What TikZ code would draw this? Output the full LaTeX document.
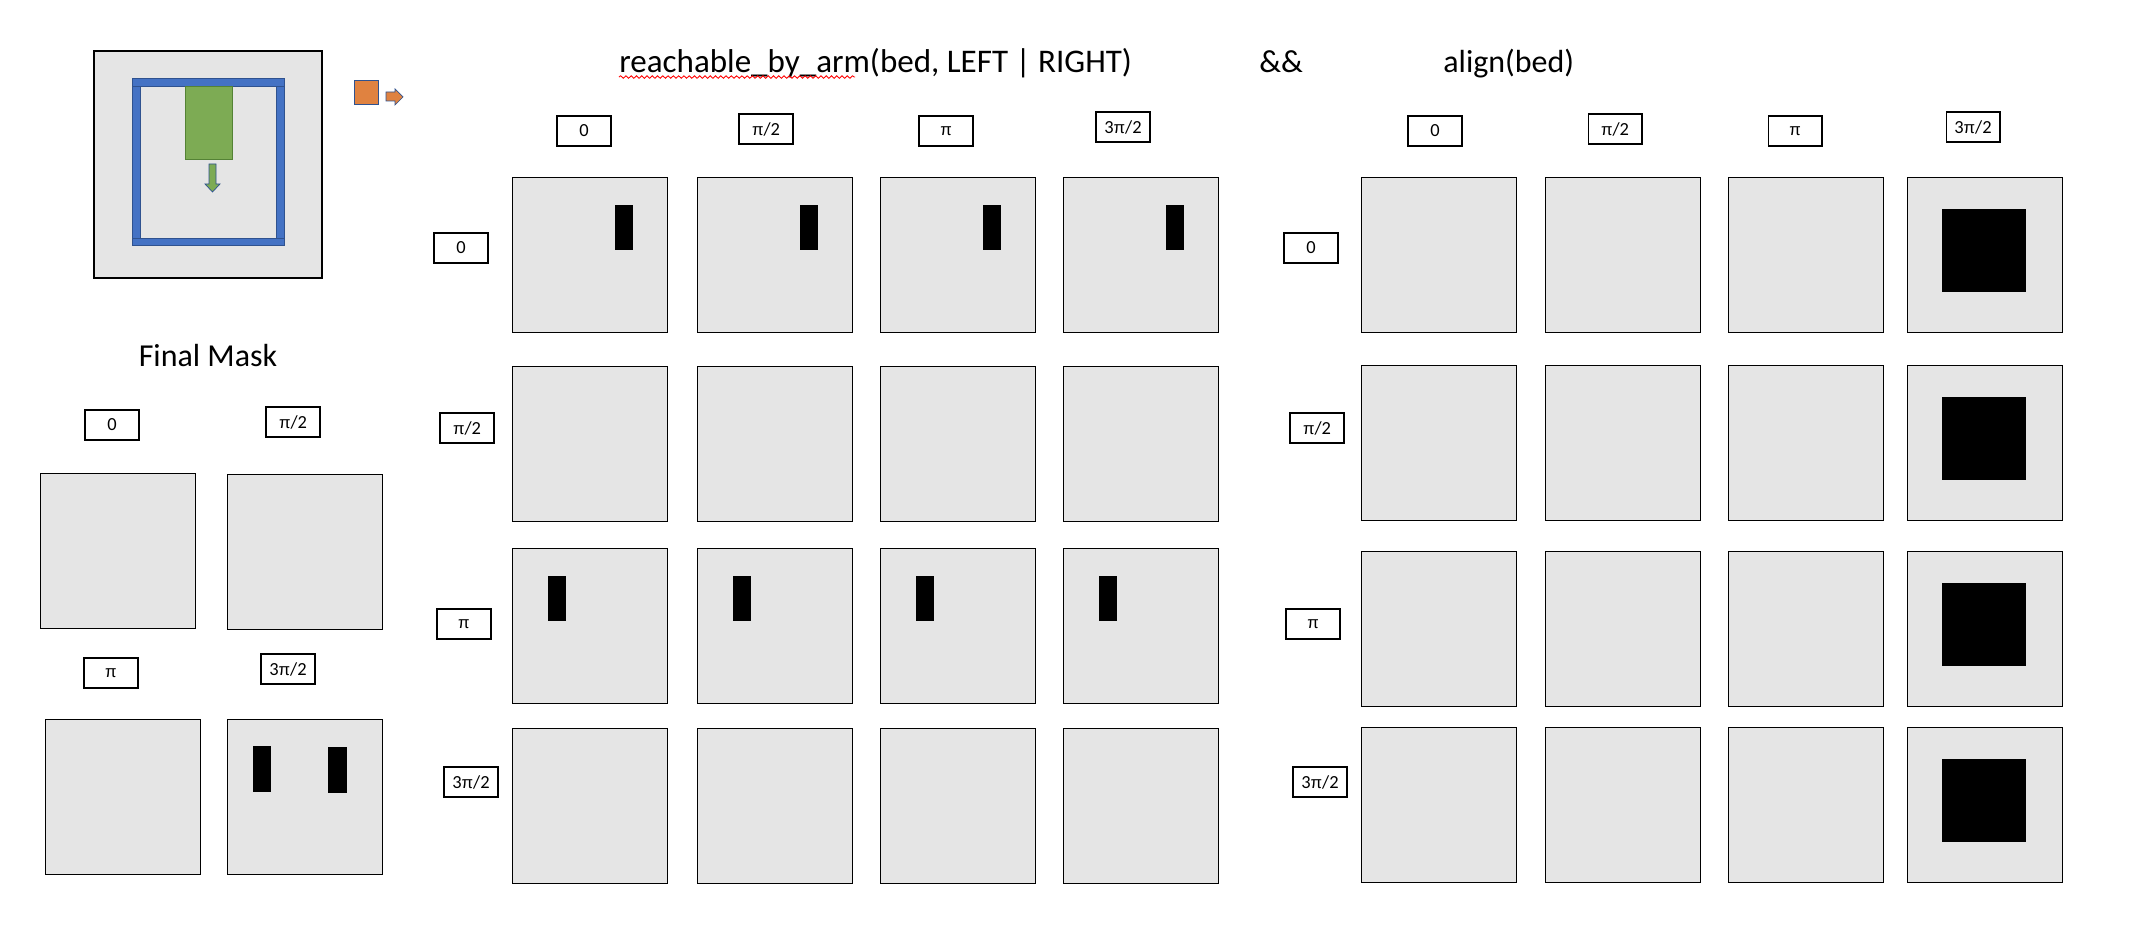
\documentclass[tikz,border=0pt]{standalone}
\usepackage{fontspec}
\setmainfont{Carlito}
\newfontfamily\grk{Liberation Sans}
\usetikzlibrary{positioning,decorations.pathmorphing}

\definecolor{cellgray}{RGB}{229,229,229}
\definecolor{frameblue}{RGB}{68,114,196}
\definecolor{edgeblue}{RGB}{47,82,143}
\definecolor{armgreen}{RGB}{125,171,84}
\definecolor{edgegreen}{RGB}{84,130,53}
\definecolor{goalorange}{RGB}{224,130,64}

\newcommand{\angpi}{{\grk\fontsize{9.5}{12}\selectfont π}}

\tikzset{
  cell/.style={draw, line width=0.8pt, fill=cellgray, minimum size=3.1cm, inner sep=0pt, anchor=north west},
  lbl/.style={draw, line width=0.6pt, fill=white, minimum width=1.08cm, minimum height=0.6cm, inner sep=0pt, font=\fontsize{10.5}{12}\selectfont},
  heading/.style={font=\fontsize{18.2}{20}\selectfont, inner sep=0pt, anchor=base west},
  wall/.style={draw=edgeblue, fill=frameblue, line width=0.5pt}
}

\begin{document}
\begin{tikzpicture}[x=0.02cm, y=-0.02cm]
\useasboundingbox (0,0) rectangle (2132,942);

% the bed seen from above
\draw[line width=0.8pt, fill=cellgray] (94,51) rectangle (322,278);
\draw[wall] (132,78) rectangle (284,86);
\draw[wall] (132,238) rectangle (284,245);
\draw[wall] (132,86) rectangle (140,238);
\draw[wall] (276,86) rectangle (284,238);
\draw[draw=edgegreen, fill=armgreen, line width=0.5pt] (185,86) rectangle (232,159);
\draw[draw=edgeblue, fill=armgreen, line width=0.4pt] (209,164) -- (216,164) -- (216,184) -- (220,184) -- (212.5,192) -- (205,184) -- (209,184) -- cycle;
\draw[draw=edgeblue, fill=goalorange, line width=0.5pt] (354,80) rectangle (378,104);
\draw[draw=edgeblue, fill=goalorange, line width=0.4pt] (386,92) -- (395,92) -- (395,89) -- (403,97) -- (395,105) -- (395,101) -- (386,101) -- cycle;

% headings
\node[heading, font=\fontsize{18.8}{21}\selectfont] (reach) at (619,73) {reachable\_by\_arm(bed, LEFT | RIGHT)};
\node[heading] (and) at (1259,73) {\&\&};
\node[heading] (align) at (1443,73) {align(bed)};
\node[heading, anchor=base] (final) at (208,366) {Final Mask};
\draw[red, line width=0.5pt, decorate, decoration={snake, amplitude=0.7pt, segment length=3pt}] ([yshift=-2.3pt]reach.base west) -- ++(236,0);

% grids
\foreach \x [count=\i] in {512,697,880,1063}
  \foreach \y [count=\j] in {177,366,548,728}
    \node[cell] (reach-\j-\i) at (\x,\y) {};
\foreach \x [count=\i] in {1361,1545,1728,1907}
  \foreach \y [count=\j] in {177,365,551,727}
    \node[cell] (align-\j-\i) at (\x,\y) {};
\foreach \x/\y [count=\i] in {40/473, 227/474, 45/719, 227/719}
  \node[cell] (final-\i) at (\x,\y) {};

% masks
\foreach \i in {1,...,4} {
  \fill ([shift={(103,28)}]reach-1-\i.north west) rectangle ++(18,45);
  \fill ([shift={(36,28)}]reach-3-\i.north west) rectangle ++(18,45);
  \fill ([shift={(35,32)}]align-\i-4.north west) rectangle ++(84,83);
}
\fill ([shift={(26,27)}]final-4.north west) rectangle ++(18,46);
\fill ([shift={(101,28)}]final-4.north west) rectangle ++(19,46);

% angle labels
\foreach \t/\x/\y [count=\i] in {0/584/131, {\angpi/2}/766/129, \angpi/946/131, {3\angpi/2}/1123/127}
  \node[lbl] (rc-\i) at (\x,\y) {\t};
\foreach \t/\x/\y [count=\i] in {0/461/248, {\angpi/2}/467/428, \angpi/464/624, {3\angpi/2}/471/782}
  \node[lbl] (rr-\i) at (\x,\y) {\t};
\foreach \t/\x/\y [count=\i] in {0/1435/131, {\angpi/2}/1615/129, \angpi/1795/131, {3\angpi/2}/1973/127}
  \node[lbl] (ac-\i) at (\x,\y) {\t};
\foreach \t/\x/\y [count=\i] in {0/1311/248, {\angpi/2}/1317/428, \angpi/1313/624, {3\angpi/2}/1320/782}
  \node[lbl] (ar-\i) at (\x,\y) {\t};
\foreach \t/\x/\y [count=\i] in {0/112/425, {\angpi/2}/293/422, \angpi/111/673, {3\angpi/2}/288/669}
  \node[lbl] (fl-\i) at (\x,\y) {\t};
\end{tikzpicture}
\end{document}
